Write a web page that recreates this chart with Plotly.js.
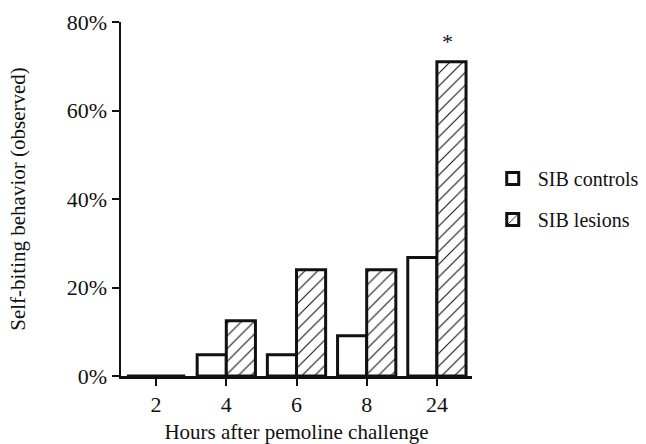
<!DOCTYPE html>
<html><head><meta charset="utf-8">
<script src="https://cdn.plot.ly/plotly-3.0.1.min.js"></script>
<style>html,body{margin:0;padding:0;background:#fff}#chart{width:646px;height:444px}</style>
</head><body><div id="chart"></div>
<script>
const hours = ['2', '4', '6', '8', '24'];
const sibControls = [0, 4.8, 4.8, 9.1, 26.8];
const sibLesions = [0, 12.5, 24, 24, 71];
const yTicks = [0, 20, 40, 60, 80];
const yTickText = ['0%', '20%', '40%', '60%', '80%'];
const seriesNames = ['SIB controls', 'SIB lesions'];
const sigMark = '*';

const font = {family: 'Liberation Serif, Times New Roman, serif', color: '#111', size: 22};
const sigIndex = hours.length - 1;

const traces = [
  {type: 'bar', x: hours, y: sibControls, name: seriesNames[0], legendgroup: 'a',
   marker: {color: '#fff', line: {color: '#111', width: 3}}},
  {type: 'bar', x: hours, y: sibLesions, name: seriesNames[1], legendgroup: 'b',
   marker: {color: '#fff', line: {color: '#111', width: 3},
     pattern: {shape: '/', fgcolor: '#111', bgcolor: '#fff', size: 9, solidity: 0.12}}}
];

const layout = {
  width: 646, height: 444,
  margin: {l: 121, r: 174, t: 22, b: 68},
  paper_bgcolor: '#fff', plot_bgcolor: '#fff',
  font: font,
  barmode: 'group', bargap: 0.17, bargroupgap: 0,
  showlegend: true,
  legend: {xref: 'container', yref: 'container', x: 0.755, xanchor: 'left', y: 0.552, yanchor: 'middle',
    traceorder: 'grouped', itemwidth: 40,
    tracegroupgap: 12, font: {family: font.family, size: 20, color: '#111'}, bgcolor: 'rgba(0,0,0,0)'},
  xaxis: {type: 'category', range: [-0.5, hours.length - 0.5], showline: true, linecolor: '#111', linewidth: 2.5,
    ticks: 'outside', ticklen: 7, tickwidth: 2, tickcolor: '#111', showgrid: false, zeroline: false,
    tickfont: {family: font.family, size: 22, color: '#111'},
    title: {text: 'Hours after pemoline challenge', standoff: 12, font: {family: font.family, size: 21, color: '#111'}}},
  yaxis: {range: [0, 80], tickmode: 'array', tickvals: yTicks, ticktext: yTickText, showline: true, linecolor: '#111', linewidth: 2.5,
    ticks: 'outside', ticklen: 7, tickwidth: 2, tickcolor: '#111', showgrid: false, zeroline: false,
    tickfont: {family: font.family, size: 22, color: '#111'},
    title: {text: 'Self-biting behavior (observed)', standoff: 36, font: {family: font.family, size: 21, color: '#111'}}},
  annotations: [{x: sigIndex, y: sibLesions[sigIndex], xshift: 11, yshift: 6, text: sigMark, showarrow: false,
    yanchor: 'bottom', font: {family: font.family, size: 22, color: '#111'}}]
};

Plotly.newPlot('chart', traces, layout, {displayModeBar: false, staticPlot: true});
</script></body></html>
